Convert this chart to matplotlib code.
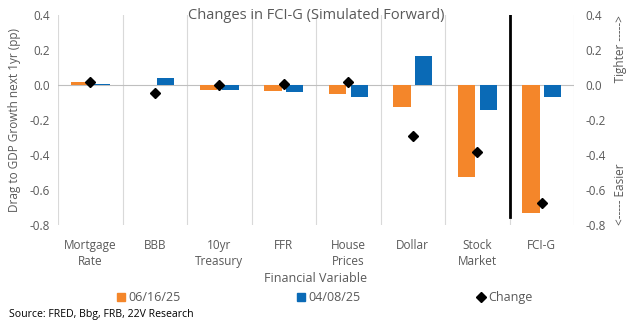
import matplotlib
matplotlib.use("Agg")
import matplotlib.pyplot as plt
from matplotlib.lines import Line2D
import numpy as np

categories = ["Mortgage\nRate", "BBB", "10yr\nTreasury", "FFR", "House\nPrices",
              "Dollar", "Stock\nMarket", "FCI-G"]
jun_16 = [0.019, 0.0, -0.027, -0.034, -0.050, -0.124, -0.524, -0.733]
apr_08 = [0.005, 0.040, -0.029, -0.040, -0.067, 0.166, -0.141, -0.067]
change = [0.015, -0.044, 0.002, 0.008, 0.015, -0.290, -0.381, -0.672]
yticks = [0.4, 0.2, 0.0, -0.2, -0.4, -0.6, -0.8]

ORANGE = "#F4862A"
BLUE = "#0A6AB6"
GREY = "#595959"

plt.rcParams["font.family"] = ["Open Sans", "DejaVu Sans"]

fig = plt.figure(figsize=(6.41, 3.21), dpi=100)
ax = fig.add_axes([0.0905, 0.299, 0.805, 0.654])

x = np.arange(len(categories))
ax.bar(x - 0.17, jun_16, width=0.27, color=ORANGE, zorder=3)
ax.bar(x + 0.17, apr_08, width=0.27, color=BLUE, zorder=3)
ax.plot(x, change, linestyle="none", marker="D", markersize=5.5, color="black", zorder=4)

# divider between components and the aggregate
ax.plot([6.5, 6.5], [0.4, -0.755], color="black", linewidth=2, zorder=5)

for b in np.arange(-0.5, len(categories), 1.0):
    ax.axvline(b, color="#D9D9D9", linewidth=0.8, zorder=1)
ax.axhline(0, color="#BFBFBF", linewidth=0.8, zorder=2)

ax.set_xlim(-0.5, len(categories) - 0.5)
ax.set_ylim(-0.8, 0.4)
ax.set_yticks(yticks)
ax.set_yticklabels([f"{v:.1f}" for v in yticks])
ax.set_xticks(x)
ax.set_xticklabels(categories, linespacing=1.3)
ax.tick_params(length=0, labelsize=8.5, colors=GREY, pad=6)
ax.tick_params(axis="x", pad=10)
for s in ax.spines.values():
    s.set_visible(False)
ax.set_ylabel("Drag to GDP Growth next 1yr (pp)", fontsize=8.5, color=GREY, labelpad=6)
ax.set_xlabel("Financial Variable", fontsize=9, color=GREY, labelpad=3)
ax.set_title("Changes in FCI-G (Simulated Forward)", fontsize=10.5, color=GREY,
             y=1.0, pad=-3)

ax2 = ax.twinx()
ax2.set_ylim(-0.8, 0.4)
ax2.set_yticks(yticks)
ax2.set_yticklabels([f"{v:.1f}" for v in yticks])
ax2.tick_params(length=0, labelsize=8.5, colors=GREY, pad=8)
for s in ax2.spines.values():
    s.set_visible(False)
ax2.set_ylabel("<----- Easier                           Tighter ----->",
               fontsize=8.5, color=GREY, labelpad=6)

handles = [
    Line2D([], [], linestyle="none", marker="s", markersize=6, color=ORANGE),
    Line2D([], [], linestyle="none", marker="s", markersize=6, color=BLUE),
    Line2D([], [], linestyle="none", marker="D", markersize=5, color="black"),
]
fig.legend(handles, ["06/16/25", "04/08/25", "Change"], loc="center",
           bbox_to_anchor=(0.505, 0.072), ncol=3, frameon=False, fontsize=9,
           handletextpad=0.1, columnspacing=9.1, handlelength=1.0,
           labelcolor=GREY)

fig.text(0.014, 0.012, "Source: FRED, Bbg, FRB, 22V Research", fontsize=7.6, color="black")

fig.savefig("out.png", dpi=100)
